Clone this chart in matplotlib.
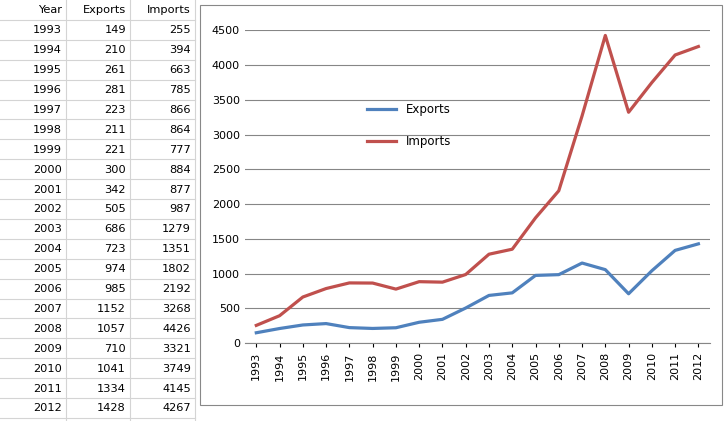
import matplotlib.pyplot as plt
from matplotlib.patches import Rectangle

years = [1993, 1994, 1995, 1996, 1997, 1998, 1999, 2000, 2001, 2002,
         2003, 2004, 2005, 2006, 2007, 2008, 2009, 2010, 2011, 2012]
exports = [149, 210, 261, 281, 223, 211, 221, 300, 342, 505,
           686, 723, 974, 985, 1152, 1057, 710, 1041, 1334, 1428]
imports = [255, 394, 663, 785, 866, 864, 777, 884, 877, 987,
           1279, 1351, 1802, 2192, 3268, 4426, 3321, 3749, 4145, 4267]

plt.rcParams['font.family'] = 'DejaVu Sans'
fig = plt.figure(figsize=(7.26, 4.21), dpi=100)

# the spreadsheet cells on the left, in pixel coordinates
sheet = fig.add_axes([0, 0, 1, 1])
sheet.set_xlim(0, 726)
sheet.set_ylim(421, 0)
sheet.axis('off')
row_h = 19.9
cols = [0, 66, 130, 195]
for c in cols[1:]:
    sheet.plot([c, c], [0, 421], color='#d4d4d4', lw=0.8)
for r in range(1, 22):
    sheet.plot([0, 195], [r * row_h, r * row_h], color='#d4d4d4', lw=0.8)
rows = [('Year', 'Exports', 'Imports')] + list(zip(years, exports, imports))
for r, vals in enumerate(rows):
    y = r * row_h + row_h / 2 + 0.5
    for c, v in enumerate(vals):
        sheet.text(cols[c + 1] - 4, y, str(v), ha='right', va='center', fontsize=8.2)

# chart border
sheet.add_patch(Rectangle((200, 5), 522, 400, fill=False, ec='#888888', lw=0.8))

ax = fig.add_axes([0.337, 0.185, 0.641, 0.743])
ax.plot(years, exports, color='#4F81BD', lw=2.3, label='Exports')
ax.plot(years, imports, color='#C0504D', lw=2.3, label='Imports')
ax.set_ylim(0, 4500)
ax.set_yticks(range(0, 4501, 500))
ax.set_xlim(1992.5, 2012.5)
ax.set_xticks(years)
ax.set_xticklabels([str(y) for y in years], rotation=90)
ax.tick_params(labelsize=8, length=3)
ax.grid(axis='y', color='#868686', lw=0.8)
ax.set_axisbelow(True)
for s in ['top', 'right', 'left']:
    ax.spines[s].set_visible(False)
ax.spines['bottom'].set_color('#868686')
ax.tick_params(axis='y', length=0)
ax.legend(loc='upper left', bbox_to_anchor=(0.24, 0.8), frameon=False, fontsize=8.5,
          labelspacing=1.6, handlelength=2.5)

plt.savefig('out.png')
